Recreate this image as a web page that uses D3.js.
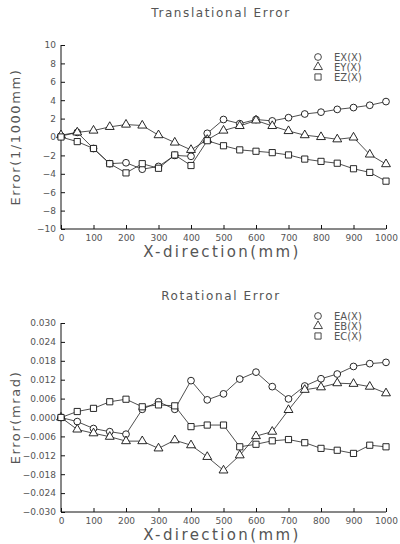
<!DOCTYPE html>
<html>
<head>
<meta charset="utf-8">
<script src="https://cdn.jsdelivr.net/npm/d3@7"></script>
<style>
  body { margin: 0; background: #fff; }
  svg { display: block; }
  text { font-family: "DejaVu Sans", sans-serif; fill: #555; }
  .tick text { font-size: 9px; }
  .domain, .tick line { stroke: #111; }
</style>
</head>
<body>
<div id="chart"></div>
<script>
// x positions (mm)
const xPos = [0, 50, 100, 150, 200, 250, 300, 350, 400, 450, 500, 550, 600, 650, 700, 750, 800, 850, 900, 950, 1000];

// translational error (1/1000 mm)
const ex = [0.1, 0.5, -1.25, -2.9, -2.8, -3.5, -3.2, -2.0, -2.1, 0.4, 1.9, 1.45, 1.9, 1.75, 2.1, 2.5, 2.7, 3.0, 3.2, 3.45, 3.85];
const ey = [0.2, 0.5, 0.7, 1.1, 1.35, 1.25, 0.2, -0.6, -1.4, -0.3, 0.7, 1.2, 1.8, 1.2, 0.65, 0.2, 0.0, -0.25, -0.05, -1.9, -2.95];
const ez = [0.0, -0.5, -1.25, -2.9, -3.9, -2.9, -3.4, -1.95, -3.1, -0.4, -0.95, -1.4, -1.55, -1.7, -1.95, -2.4, -2.65, -2.85, -3.45, -3.85, -4.8];

// rotational error (mrad)
const ea = [0, -0.0013, -0.0035, -0.0045, -0.0053, 0.0026, 0.005, 0.0026, 0.0117, 0.0056, 0.0075, 0.0122, 0.0144, 0.0098, 0.0059, 0.010, 0.0123, 0.0138, 0.0162, 0.0171, 0.0175];
const eb = [0, -0.0038, -0.005, -0.0061, -0.0075, -0.0075, -0.0098, -0.0072, -0.0088, -0.0125, -0.0168, -0.012, -0.0059, -0.0045, 0.0024, 0.0088, 0.0096, 0.0109, 0.0107, 0.0098, 0.0077];
const ec = [0, 0.0019, 0.0029, 0.005, 0.0058, 0.0034, 0.004, 0.0037, -0.0029, -0.0024, -0.0024, -0.0093, -0.0085, -0.0074, -0.007, -0.008, -0.0098, -0.0104, -0.0114, -0.0088, -0.0093];

const xTicks = [0, 100, 200, 300, 400, 500, 600, 700, 800, 900, 1000];
const yTicks1 = [-10, -8, -6, -4, -2, 0, 2, 4, 6, 8, 10];
const yTicks2 = [-0.030, -0.024, -0.018, -0.012, -0.006, 0, 0.006, 0.012, 0.018, 0.024, 0.030];

const svg = d3.select("#chart").append("svg")
  .attr("width", 400)
  .attr("height", 544);

const symbols = {
  circle: d3.symbol().type(d3.symbolCircle).size(36),
  triangle: d3.symbol().type(d3.symbolTriangle).size(34),
  square: d3.symbol().type(d3.symbolSquare).size(38)
};

function drawPanel(opt) {
  const x = d3.scaleLinear().domain([0, 1000]).range([61, 386]);
  const y = d3.scaleLinear().domain(opt.domain).range([opt.bottom, opt.top]);

  // title
  svg.append("text")
    .attr("x", 221).attr("y", opt.titleY)
    .attr("text-anchor", "middle")
    .style("font-size", "12px")
    .style("letter-spacing", "1.6px")
    .text(opt.title);

  // x axis
  const gx = svg.append("g").attr("transform", "translate(0," + opt.bottom + ")");
  gx.call(d3.axisBottom(x).tickValues(d3.range(0, 1001, 50)).tickSize(-3).tickFormat(""));
  gx.call(d3.axisBottom(x).tickValues(xTicks).tickSize(-4).tickPadding(8).tickFormat(d3.format("d")));
  gx.select(".domain").attr("d", "M61,0H386");
  gx.selectAll(".tick text").attr("dy", "0.4em");

  // y axis
  const gy = svg.append("g").attr("transform", "translate(61,0)");
  gy.call(d3.axisLeft(y).tickValues(d3.range(opt.domain[0], opt.domain[1] + opt.minor / 2, opt.minor)).tickSize(-2).tickFormat(""));
  gy.call(d3.axisLeft(y).tickValues(opt.ticks).tickSize(-4).tickPadding(5).tickFormat(opt.fmt));
  gy.selectAll(".domain").attr("d", "M0," + opt.top + "V" + opt.bottom);

  // axis titles
  svg.append("text")
    .attr("x", 222).attr("y", opt.bottom + 28)
    .attr("text-anchor", "middle")
    .style("font-size", "15px")
    .style("letter-spacing", "2.4px")
    .text("X-direction(mm)");

  svg.append("text")
    .attr("transform", "translate(20," + ((opt.top + opt.bottom) / 2) + ") rotate(-90)")
    .attr("text-anchor", "middle")
    .style("font-size", "13px")
    .style("letter-spacing", "1.6px")
    .text(opt.yTitle);

  const line = d3.line()
    .x(d => x(d[0]))
    .y(d => y(d[1]));

  opt.series.forEach(s => {
    const pts = xPos.map((v, i) => [v, s.values[i]]);
    svg.append("path")
      .datum(pts)
      .attr("fill", "none")
      .attr("stroke", "#222")
      .attr("stroke-width", 0.8)
      .attr("d", line);
    svg.append("g").selectAll("path")
      .data(pts)
      .enter().append("path")
      .attr("transform", d => "translate(" + x(d[0]) + "," + y(d[1]) + ")")
      .attr("d", symbols[s.shape])
      .attr("fill", "#fff")
      .attr("stroke", "#111")
      .attr("stroke-width", 0.9);
  });

  // legend
  opt.series.forEach((s, i) => {
    const ly = opt.legendY + i * 10;
    svg.append("path")
      .attr("transform", "translate(318," + ly + ")")
      .attr("d", symbols[s.shape])
      .attr("fill", "#fff")
      .attr("stroke", "#333")
      .attr("stroke-width", 0.9);
    svg.append("text")
      .attr("x", 334).attr("y", ly + 3.5)
      .style("font-size", "10px")
      .text(s.name);
  });
}

const fmt2 = d => d3.format(".3f")(d).replace("-", "\u2212");

drawPanel({
  title: "Translational Error",
  titleY: 17,
  top: 45, bottom: 229,
  domain: [-10, 10],
  minor: 0.5,
  ticks: yTicks1,
  fmt: d => String(d).replace("-", "\u2212"),
  yTitle: "Error(1/1000mm)",
  legendY: 57,
  series: [
    { name: "EX(X)", shape: "circle", values: ex },
    { name: "EY(X)", shape: "triangle", values: ey },
    { name: "EZ(X)", shape: "square", values: ez }
  ]
});

drawPanel({
  title: "Rotational Error",
  titleY: 300,
  top: 323, bottom: 512,
  domain: [-0.030, 0.030],
  minor: 0.0015,
  ticks: yTicks2,
  fmt: fmt2,
  yTitle: "Error(mrad)",
  legendY: 316,
  series: [
    { name: "EA(X)", shape: "circle", values: ea },
    { name: "EB(X)", shape: "triangle", values: eb },
    { name: "EC(X)", shape: "square", values: ec }
  ]
});
</script>
</body>
</html>
